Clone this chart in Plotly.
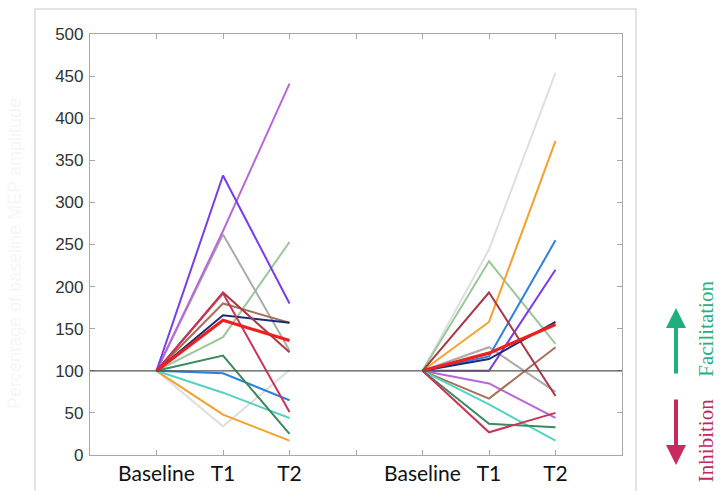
import plotly.graph_objects as go

# ---- data ----
categories = ["Baseline", "T1", "T2"]
left_pos = [1, 2, 3]
right_pos = [5, 6, 7]
tick_positions = [1, 2, 3, 4, 5, 6, 7]
tick_labels = ["Baseline", "T1", "T2", "", "Baseline", "T1", "T2"]
y_ticks = [0, 50, 100, 150, 200, 250, 300, 350, 400, 450, 500]

# left group (percentage of baseline)
left_purple = [100, 332, 180]
left_orchid = [100, 266, 441]
left_grey = [100, 262, 124]
left_lightgreen = [100, 140, 253]
left_lightgrey = [100, 34, 101]
left_crimson = [100, 192, 51]
left_darkred = [100, 193, 122]
left_brown = [100, 180, 157]
left_navy = [100, 166, 157]
left_red = [100, 160, 136]
left_darkgreen = [100, 118, 25]
left_blue = [100, 97, 65]
left_teal = [100, 74, 44]
left_orange = [100, 48, 17]

# right group
right_lightgrey = [100, 244, 454]
right_orange = [100, 158, 373]
right_blue = [100, 117, 255]
right_purple = [100, 100, 220]
right_lightgreen = [100, 230, 132]
right_darkred = [100, 193, 70]
right_red = [100, 121, 155]
right_navy = [100, 114, 158]
right_grey = [100, 128, 75]
right_brown = [100, 67, 128]
right_orchid = [100, 85, 44]
right_darkgreen = [100, 37, 33]
right_crimson = [100, 27, 50]
right_teal = [100, 60, 17]

colors = {
    "purple": "#7a3ce6", "orchid": "#b867d9", "grey": "#ababab",
    "lightgreen": "#9cc79a", "lightgrey": "#dedede", "crimson": "#c8345a",
    "darkred": "#a83a48", "brown": "#a6705a", "navy": "#1f2a78",
    "red": "#ee1f1f", "darkgreen": "#3d8a5c", "blue": "#2f7fdc",
    "teal": "#52d2c2", "orange": "#f5a02c",
}

left_series = [
    ("lightgrey", left_lightgrey), ("lightgreen", left_lightgreen), ("grey", left_grey),
    ("orchid", left_orchid), ("purple", left_purple), ("orange", left_orange),
    ("teal", left_teal), ("blue", left_blue), ("darkgreen", left_darkgreen),
    ("brown", left_brown), ("navy", left_navy), ("darkred", left_darkred),
    ("crimson", left_crimson), ("red", left_red),
]
right_series = [
    ("lightgrey", right_lightgrey), ("lightgreen", right_lightgreen), ("grey", right_grey),
    ("orange", right_orange), ("blue", right_blue), ("purple", right_purple),
    ("orchid", right_orchid), ("brown", right_brown), ("teal", right_teal),
    ("darkgreen", right_darkgreen), ("crimson", right_crimson), ("darkred", right_darkred),
    ("navy", right_navy), ("red", right_red),
]

fig = go.Figure()
for pos, series in ((left_pos, left_series), (right_pos, right_series)):
    for cname, vals in series:
        fig.add_trace(go.Scatter(
            x=pos, y=vals, mode="lines",
            line=dict(color=colors[cname], width=3.2 if cname == "red" else 2),
            showlegend=False, hoverinfo="skip",
        ))

axis_common = dict(
    showline=True, linecolor="#a8a8a8", linewidth=1.2, mirror="ticks",
    ticks="inside", ticklen=5, tickcolor="#a8a8a8", tickwidth=1,
    showgrid=False, zeroline=False, automargin=False,
)
fig.update_xaxes(range=[0, 8], tickvals=tick_positions, ticktext=tick_labels,
                 tickfont=dict(family="Lato", size=21, color="#111111"),
                 ticklabelstandoff=0, **axis_common)
fig.update_yaxes(range=[0, 500], tickvals=y_ticks,
                 tickfont=dict(family="Liberation Sans", size=17, color="#333333"),
                 ticklabelstandoff=2, **axis_common)

shapes = [
    dict(type="line", xref="paper", yref="y", x0=0, x1=1, y0=100, y1=100,
         line=dict(color="#555555", width=1.2), layer="above"),
    dict(type="rect", xref="paper", yref="paper", x0=-0.1034, x1=1.0263,
         y0=-0.2, y1=1.0594, line=dict(color="#dadada", width=1.5)),
]

annotations = [
    dict(xref="paper", yref="paper", x=-0.141, y=0.48, text="Percentage of baseline MEP amplitude",
         textangle=-90, showarrow=False, xanchor="center", yanchor="middle",
         font=dict(family="Liberation Sans", size=18, color="#f6f6f6")),
    dict(xref="paper", yref="paper", x=1.1015, y=0.349, text="", showarrow=True,
         ax=0, ay=67, arrowhead=2, arrowsize=1, arrowwidth=4, arrowcolor="#1fae7c"),
    dict(xref="paper", yref="paper", x=1.1015, y=-0.0238, text="", showarrow=True,
         ax=0, ay=-67, arrowhead=2, arrowsize=1, arrowwidth=4, arrowcolor="#c72a5c"),
    dict(xref="paper", yref="paper", x=1.158, y=0.30, text="Facilitation", textangle=-90,
         showarrow=False, xanchor="center", yanchor="middle",
         font=dict(family="Liberation Serif", size=21, color="#2ab07f")),
    dict(xref="paper", yref="paper", x=1.158, y=0.033, text="Inhibition", textangle=-90,
         showarrow=False, xanchor="center", yanchor="middle",
         font=dict(family="Liberation Serif", size=21, color="#c02860")),
]

fig.update_layout(
    width=720, height=491,
    margin=dict(l=90, r=98, t=34, b=36),
    paper_bgcolor="white", plot_bgcolor="white",
    shapes=shapes, annotations=annotations,
)

fig.write_html("out.html")
